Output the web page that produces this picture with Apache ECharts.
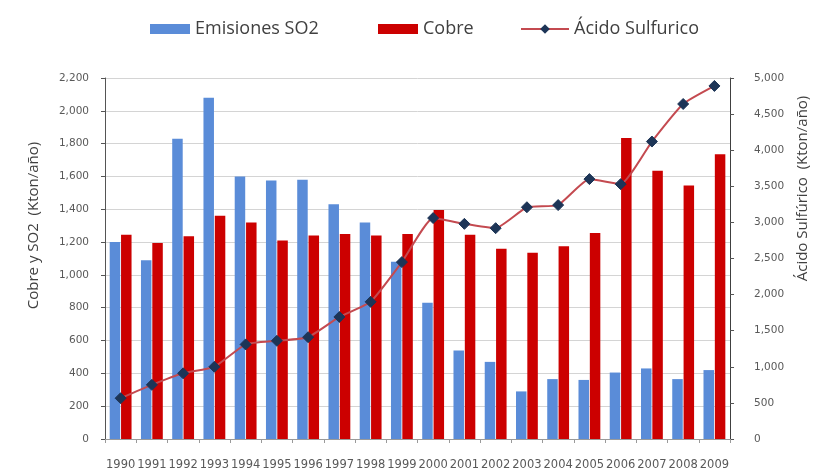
<!DOCTYPE html>
<html>
<head>
<meta charset="utf-8">
<script src="https://cdn.jsdelivr.net/npm/echarts@6/dist/echarts.min.js"></script>
<style>
  html, body { margin: 0; padding: 0; background: #ffffff; }
  #chart { width: 818px; height: 473px; }
</style>
</head>
<body>
<div id="chart"></div>
<script>
// Años del periodo
const years = ['1990','1991','1992','1993','1994','1995','1996','1997','1998','1999',
               '2000','2001','2002','2003','2004','2005','2006','2007','2008','2009'];

// Emisiones de SO2 (kton/año)
const emisionesSO2 = [1200, 1090, 1830, 2080, 1600, 1575, 1580, 1430, 1320, 1080,
                      830, 540, 470, 290, 365, 360, 405, 430, 365, 420];

// Producción de cobre (kton/año)
const cobre = [1245, 1195, 1235, 1360, 1320, 1210, 1240, 1250, 1240, 1250,
               1395, 1245, 1160, 1135, 1175, 1255, 1835, 1635, 1545, 1735];

// Producción de ácido sulfúrico (kton/año), eje derecho
const acidoSulfurico = [565, 750, 910, 1000, 1310, 1360, 1410, 1690, 1900, 2450,
                        3060, 2980, 2920, 3210, 3240, 3600, 3530, 4120, 4640, 4890];

const fmt = v => v.toLocaleString('en-US');
const labelColor = '#595959';
const tickFont = 'DejaVu Sans';
const legendFont = 'Open Sans';

const chart = echarts.init(document.getElementById('chart'), null, { renderer: 'canvas' });

const legendText = { fontFamily: legendFont, fontSize: 18, color: '#404040' };

chart.setOption({
  animation: false,
  backgroundColor: '#ffffff',
  grid: { left: 105, right: 86, top: 78, bottom: 34, containLabel: false },
  legend: [
    { data: [{ name: 'Emisiones SO2', icon: 'rect' }], left: 145, top: 15, itemWidth: 40, itemHeight: 10, itemGap: 4,
      textStyle: legendText },
    { data: [{ name: 'Cobre', icon: 'rect' }], left: 373, top: 15, itemWidth: 40, itemHeight: 10,
      textStyle: legendText },
    { data: ['Ácido Sulfurico'], left: 515, top: 15, itemWidth: 48, itemHeight: 12,
      textStyle: legendText }
  ],
  xAxis: {
    type: 'category',
    data: years,
    boundaryGap: true,
    axisLine: { lineStyle: { color: '#9a9a9a' } },
    axisTick: { show: true, length: 4, lineStyle: { color: '#9a9a9a' } },
    axisLabel: { interval: 0, margin: 20, fontFamily: tickFont, fontSize: 11.5, color: labelColor }
  },
  yAxis: [
    {
      type: 'value', min: 0, max: 2200, interval: 200,
      name: 'Cobre y SO2  (Kton/año)',
      nameLocation: 'middle', nameGap: 64,
      nameTextStyle: { fontFamily: legendFont, fontSize: 15, color: '#404040', padding: [0, 0, 0, 66] },
      axisLine: { show: true, lineStyle: { color: '#555555' } },
      axisTick: { show: true, length: 4, lineStyle: { color: '#555555' } },
      axisLabel: { formatter: fmt, margin: 16, fontFamily: tickFont, fontSize: 10.5, color: labelColor },
      splitLine: { show: true, lineStyle: { color: '#d4d4d4', width: 1 } }
    },
    {
      type: 'value', min: 0, max: 5000, interval: 500,
      name: 'Ácido Sulfúrico  (Kton/año)',
      nameLocation: 'middle', nameGap: 64,
      nameTextStyle: { fontFamily: legendFont, fontSize: 15, color: '#404040', padding: [0, 0, 0, 140] },
      axisLine: { show: true, lineStyle: { color: '#404040' } },
      axisTick: { show: true, length: 4, lineStyle: { color: '#555555' } },
      axisLabel: { formatter: fmt, margin: 24, fontFamily: tickFont, fontSize: 10.5, color: labelColor },
      splitLine: { show: false }
    }
  ],
  series: [
    {
      name: 'Emisiones SO2', type: 'bar', yAxisIndex: 0, data: emisionesSO2,
      barWidth: 10.5, barGap: '8%',
      itemStyle: { color: '#5a8cd8' }
    },
    {
      name: 'Cobre', type: 'bar', yAxisIndex: 0, data: cobre,
      barWidth: 10.5,
      itemStyle: { color: '#cc0000' }
    },
    {
      name: 'Ácido Sulfurico', type: 'line', yAxisIndex: 1, data: acidoSulfurico,
      smooth: 0.15, z: 5,
      symbol: 'diamond', symbolSize: 11,
      lineStyle: { color: '#c44a50', width: 2 },
      itemStyle: { color: '#1d3557', borderColor: '#1d3557' }
    }
  ]
});
</script>
</body>
</html>
